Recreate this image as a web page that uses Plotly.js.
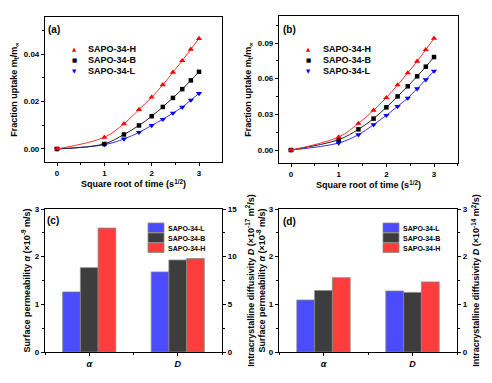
<!DOCTYPE html>
<html><head><meta charset="utf-8">
<script src="https://cdn.plot.ly/plotly-3.0.1.min.js"></script>
<style>html,body{margin:0;padding:0;background:#fff}#chart{width:492px;height:383px}</style>
</head><body><div id="chart"></div>
<script>
// ---- data ----
const sqrtTime = [0, 1, 1.414, 1.732, 2, 2.236, 2.449, 2.646, 2.828, 3];
const seriesNames = ['SAPO-34-H', 'SAPO-34-B', 'SAPO-34-L'];
const uptakeA_H = [0, 0.0049, 0.0106, 0.0166, 0.0218, 0.0270, 0.0323, 0.0372, 0.0420, 0.0465];
const uptakeA_B = [0, 0.0021, 0.0061, 0.0099, 0.0138, 0.0177, 0.0215, 0.0252, 0.0289, 0.0325];
const uptakeA_L = [0, 0.0018, 0.0042, 0.0070, 0.0099, 0.0125, 0.0151, 0.0176, 0.0206, 0.0234];
const uptakeB_H = [0, 0.0109, 0.0224, 0.0334, 0.0440, 0.0547, 0.0648, 0.0746, 0.0844, 0.0939];
const uptakeB_B = [0, 0.0087, 0.0174, 0.0264, 0.0359, 0.0451, 0.0536, 0.0620, 0.0701, 0.0782];
const uptakeB_L = [0, 0.0059, 0.0129, 0.0213, 0.0292, 0.0367, 0.0437, 0.0516, 0.0592, 0.0664];
const barCategories = ['α', 'D'];
const barSeries = ['SAPO-34-L', 'SAPO-34-B', 'SAPO-34-H'];
const c_alpha = [1.26, 1.77, 2.60];   // ×10^-9 m/s
const c_D = [8.4, 9.65, 9.8];         // ×10^-17 m2/s
const d_alpha = [1.09, 1.29, 1.56];   // ×10^-8 m/s
const d_D = [1.28, 1.25, 1.47];       // ×10^-14 m2/s

// ---- style ----
const FONT = 'Liberation Sans, Arial, sans-serif';
const lineCol = {H: '#ff3030', B: '#222222', L: '#3030ff'};
const mkCol = {H: '#ff0000', B: '#000000', L: '#0000ff'};
const mkSym = {H: 'triangle-up', B: 'square', L: 'triangle-down'};
const barCol = ['#4b4bff', '#3d3d3d', '#ff3d3d'];
const W = 492, H = 383;
const px = v => v / W, py = v => 1 - v / H;

const traces = [];
function curve(x, y, key, xa, ya) {
  traces.push({x: x, y: y, xaxis: xa, yaxis: ya, type: 'scatter', mode: 'lines+markers',
    line: {shape: 'spline', color: lineCol[key], width: 1},
    marker: {symbol: mkSym[key], color: mkCol[key], size: key === 'B' ? 4.5 : 5.5},
    showlegend: false, cliponaxis: false});
}
curve(sqrtTime, uptakeA_L, 'L', 'x', 'y');
curve(sqrtTime, uptakeA_B, 'B', 'x', 'y');
curve(sqrtTime, uptakeA_H, 'H', 'x', 'y');
curve(sqrtTime, uptakeB_L, 'L', 'x2', 'y2');
curve(sqrtTime, uptakeB_B, 'B', 'x2', 'y2');
curve(sqrtTime, uptakeB_H, 'H', 'x2', 'y2');

const offs = [-0.3, -0.1, 0.1];
function bars(vals, catIdx, xa, ya) {
  vals.forEach((v, i) => traces.push({type: 'bar', x: [catIdx], y: [v], xaxis: xa, yaxis: ya,
    width: 0.2, offset: offs[i], marker: {color: barCol[i], line: {color: '#888888', width: 0.8}},
    showlegend: false, name: barSeries[i]}));
}
bars(c_alpha, barCategories.indexOf('α'), 'x3', 'y3');
bars(c_D, barCategories.indexOf('D'), 'x3', 'y4');
bars(d_alpha, barCategories.indexOf('α'), 'x4', 'y5');
bars(d_D, barCategories.indexOf('D'), 'x4', 'y6');

const tickF = {family: FONT, size: 8, color: '#000', weight: 'bold'};
const titleF = {family: FONT, size: 9, color: '#000', weight: 'bold'};
function ax(extra) {
  return Object.assign({showgrid: false, zeroline: false, showline: true, linecolor: '#000', linewidth: 1.1,
    ticks: 'outside', ticklen: 3, tickwidth: 1, tickcolor: '#000', tickfont: tickF,
    automargin: false, fixedrange: true}, extra);
}
const minorT = d => ({dtick: d, ticks: 'outside', ticklen: 2, tickcolor: '#000'});
const layout = {
  width: W, height: H, margin: {l: 0, r: 0, t: 0, b: 0}, paper_bgcolor: '#fff', plot_bgcolor: 'rgba(0,0,0,0)',
  barmode: 'overlay', showlegend: false, font: {family: FONT},
  xaxis: ax({domain: [px(45), px(222)], range: [-0.254, 3.486], dtick: 1, tick0: 0, anchor: 'y', mirror: true,
    minor: minorT(0.5),
    title: {text: 'Square root of time (s<sup>1/2</sup>)', font: titleF, standoff: 2}}),
  yaxis: ax({domain: [py(162), py(17)], range: [-0.0055, 0.0556], dtick: 0.02, tick0: 0, tickformat: '.2f', anchor: 'x', mirror: true,
    minor: minorT(0.01),
    title: {text: 'Fraction uptake m<sub>t</sub>/m<sub>∞</sub>', font: titleF, standoff: 4}}),
  xaxis2: ax({domain: [px(279), px(458)], range: [-0.252, 3.503], dtick: 1, tick0: 0, anchor: 'y2', mirror: true,
    minor: minorT(0.5),
    title: {text: 'Square root of time (s<sup>1/2</sup>)', font: titleF, standoff: 2}}),
  yaxis2: ax({domain: [py(163), py(16)], range: [-0.0109, 0.1127], dtick: 0.03, tick0: 0, tickformat: '.2f', anchor: 'x2', mirror: true,
    minor: minorT(0.015),
    title: {text: 'Fraction uptake m<sub>t</sub>/m<sub>∞</sub>', font: titleF, standoff: 4}}),
  xaxis3: ax({domain: [px(45), px(222)], range: [-0.5, 1.5], tickvals: [0, 1], ticktext: barCategories.map(c => '<i>' + c + '</i>'),
    anchor: 'y3', mirror: true, tickfont: Object.assign({}, tickF, {size: 9}),
    minor: Object.assign(minorT(0.5), {tick0: 0.5})}),
  yaxis3: ax({domain: [py(352), py(209)], range: [0, 3], dtick: 1, anchor: 'x3',
    minor: minorT(0.5),
    title: {text: 'Surface permeability <i>α</i> (×10<sup>-9</sup> m/s)', font: titleF, standoff: 2}}),
  yaxis4: ax({overlaying: 'y3', side: 'right', range: [0, 15], dtick: 5, anchor: 'x3',
    minor: minorT(2.5),
    title: {text: 'Intracrystalline diffusivity <i>D</i> (×10<sup>-17</sup> m<sup>2</sup>/s)', font: titleF, standoff: 11}}),
  xaxis4: ax({domain: [px(279), px(457)], range: [-0.5, 1.5], tickvals: [0, 1], ticktext: barCategories.map(c => '<i>' + c + '</i>'),
    anchor: 'y5', mirror: true, tickfont: Object.assign({}, tickF, {size: 9}),
    minor: Object.assign(minorT(0.5), {tick0: 0.5})}),
  yaxis5: ax({domain: [py(352), py(209)], range: [0, 3], dtick: 1, anchor: 'x4',
    minor: minorT(0.5),
    title: {text: 'Surface permeability <i>α</i> (×10<sup>-8</sup> m/s)', font: titleF, standoff: 1}}),
  yaxis6: ax({overlaying: 'y5', side: 'right', range: [0, 3], dtick: 1, anchor: 'x4',
    minor: minorT(0.5),
    title: {text: 'Intracrystalline diffusivity <i>D</i> (×10<sup>-14</sup> m<sup>2</sup>/s)', font: titleF, standoff: 6}}),
  annotations: [], shapes: []
};

// panel labels
[['(a)', 54, 29], ['(b)', 289, 29], ['(c)', 53, 220], ['(d)', 289, 221]].forEach(([t, x, y]) =>
  layout.annotations.push({text: t, xref: 'paper', yref: 'paper', x: px(x), y: py(y), showarrow: false,
    xanchor: 'center', yanchor: 'middle', font: {family: FONT, size: 10, color: '#000', weight: 'bold'}}));

// custom legends for (a) and (b)
const legSym = {H: '▲', B: '■', L: '▼'};
['H', 'B', 'L'].forEach((k, i) => {
  [[74, 86], [308, 321]].forEach(([mx, tx]) => {
    const y = 49 + i * 11;
    layout.annotations.push({text: legSym[k], xref: 'paper', yref: 'paper', x: px(mx), y: py(y), showarrow: false,
      xanchor: 'center', yanchor: 'middle', font: {family: 'DejaVu Sans', size: 5.5, color: mkCol[k]}});
    layout.annotations.push({text: seriesNames[i], xref: 'paper', yref: 'paper', x: px(tx), y: py(y), showarrow: false,
      xanchor: 'left', yanchor: 'middle', font: {family: FONT, size: 9, color: '#000', weight: 'bold'}});
  });
});
// custom legends for (c) and (d)
barSeries.forEach((name, i) => {
  [148, 383].forEach(bx => {
    const y0 = 223 + i * 10;
    layout.shapes.push({type: 'rect', xref: 'paper', yref: 'paper', x0: px(bx), x1: px(bx + 16), y0: py(y0 + 9.5), y1: py(y0),
      fillcolor: barCol[i], line: {color: '#888888', width: 0.8}});
    layout.annotations.push({text: name, xref: 'paper', yref: 'paper', x: px(bx + 18), y: py(y0 + 5), showarrow: false,
      xanchor: 'left', yanchor: 'middle', font: {family: FONT, size: 7, color: '#000', weight: 'bold'}});
  });
});

Plotly.newPlot('chart', traces, layout, {staticPlot: true, displayModeBar: false});
</script></body></html>
